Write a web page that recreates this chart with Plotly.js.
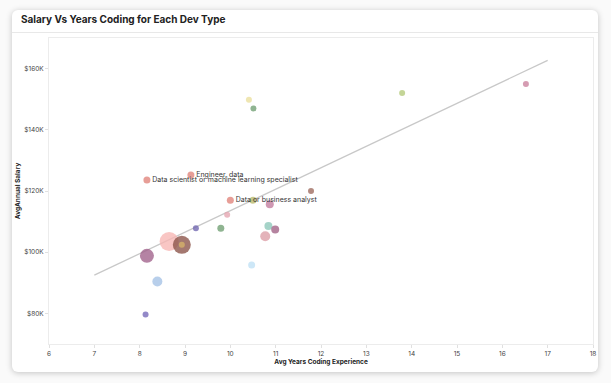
<!DOCTYPE html>
<html>
<head>
<meta charset="utf-8">
<script src="https://cdn.plot.ly/plotly-3.0.1.min.js"></script>
<style>
html,body{margin:0;padding:0;background:#fafafa;width:611px;height:383px;overflow:hidden;}
#card{position:absolute;left:12px;top:10px;width:586px;height:362px;background:#fff;border-radius:6px;box-shadow:0 1px 6px rgba(0,0,0,0.22);}
#sep{position:absolute;left:12px;top:32px;width:586px;height:1px;background:#e8e8e8;}
#chart{position:absolute;left:0;top:0;width:611px;height:383px;}
</style>
</head>
<body>
<div id="card"></div>
<div id="sep"></div>
<div id="chart"></div>
<script>
// Average years of coding experience per dev type
const yearsCoding = [8.16, 9.13, 10.0, 10.5, 10.87, 11.78, 9.93, 9.24, 9.79, 10.84, 10.99, 10.77, 8.65, 8.93, 8.93, 8.16, 8.39, 10.47, 8.13, 10.41, 10.51, 13.79, 16.52];
// Average annual salary per dev type
const avgSalary = [123600, 125200, 117000, 117000, 115700, 120000, 112200, 107800, 107800, 108600, 107400, 105200, 103500, 102400, 102400, 98800, 90400, 95800, 79600, 149800, 147000, 152000, 155000];
// Relative bubble sizes (respondent counts)
const bubbleSize = [7, 7, 7, 7, 8, 6, 6, 6, 7, 8, 8, 10, 19, 18, 6, 14, 10, 7, 6, 6, 6, 6, 6];
const devLabels = ["Data scientist or machine learning specialist", "Engineer, data", "Data or business analyst", "", "", "", "", "", "", "", "", "", "", "", "", "", "", "", "", "", "", "", ""];
const pointColors = ["#e0837a", "#e0837a", "#e0837a", "#b8b86a", "#c07a9c", "#9e6a5e", "#e4a4b0", "#6f65b0", "#6f9f72", "#8cc7b8", "#a06084", "#dc9ea6", "#f7b6b4", "#8a5248", "#d6b46a", "#a0608a", "#a4c2e6", "#bfe0f5", "#7468b8", "#ebdf9c", "#6f9f72", "#b4c97a", "#c9809c"];
// Trend line endpoints
const trendX = [7, 17];
const trendY = [92500, 162700];
// Axis ticks
const yTickVals = [80000, 100000, 120000, 140000, 160000];
const yTickText = ["$80K", "$100K", "$120K", "$140K", "$160K"];
const xTickVals = [6, 7, 8, 9, 10, 11, 12, 13, 14, 15, 16, 17, 18];

const FONT = "Inter, 'Liberation Sans', Arial, sans-serif";

const traces = [
  {
    x: trendX, y: trendY, mode: "lines", type: "scatter",
    line: {color: "#c8c8c8", width: 1.3}, hoverinfo: "skip", showlegend: false
  },
  {
    x: yearsCoding, y: avgSalary, mode: "markers+text", type: "scatter",
    text: devLabels, textposition: "middle right",
    textfont: {family: FONT, size: 7, color: "#333"},
    marker: {size: bubbleSize, color: pointColors, opacity: 0.78, line: {width: 0}},
    showlegend: false
  }
];

const layout = {
  width: 611, height: 383,
  margin: {l: 49, r: 18, t: 38, b: 39},
  paper_bgcolor: "rgba(0,0,0,0)",
  plot_bgcolor: "rgba(0,0,0,0)",
  font: {family: FONT, size: 6.5, color: "#444"},
  title: {
    text: "<b>Salary Vs Years Coding for Each Dev Type</b>",
    font: {family: FONT, size: 10, color: "#222"},
    x: 21/611, xref: "container", xanchor: "left",
    y: 1 - 19/383, yref: "container", yanchor: "middle"
  },
  xaxis: {
    range: [6, 18], tickvals: xTickVals, ticktext: xTickVals.map(String),
    showgrid: false, zeroline: false,
    showline: true, mirror: true, linecolor: "#ececec", linewidth: 1,
    ticks: "outside", ticklen: 3, tickcolor: "#e0e0e0",
    tickfont: {family: FONT, size: 6.5, color: "#444"},
    title: {text: "<b>Avg Years Coding Experience</b>", font: {family: FONT, size: 6.5, color: "#222"}, standoff: 1}
  },
  yaxis: {
    range: [70000, 170000], tickvals: yTickVals, ticktext: yTickText,
    showgrid: false, zeroline: false,
    showline: true, mirror: true, linecolor: "#ececec", linewidth: 1,
    ticks: "outside", ticklen: 3, tickcolor: "#e0e0e0",
    tickfont: {family: FONT, size: 6.5, color: "#444"},
    title: {text: "<b>AvgAnnual Salary</b>", font: {family: FONT, size: 6.5, color: "#222"}, standoff: 2}
  }
};

Plotly.newPlot("chart", traces, layout, {displayModeBar: false, staticPlot: true});
</script>
</body>
</html>
